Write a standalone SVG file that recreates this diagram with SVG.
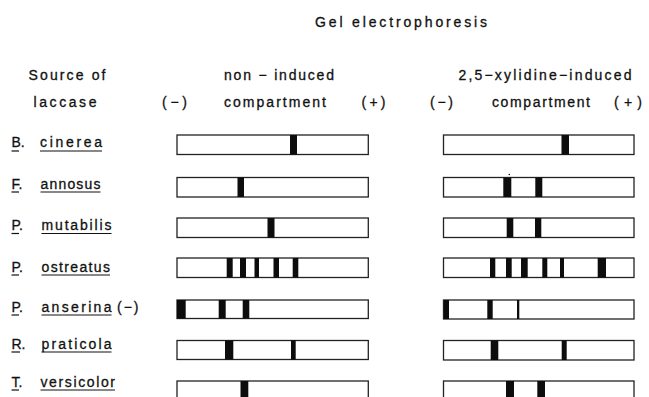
<svg xmlns="http://www.w3.org/2000/svg" width="649" height="397" viewBox="0 0 649 397">
  <style>
    text { font-family: "Liberation Sans", "DejaVu Sans", sans-serif; fill: #111111; stroke: #111111; stroke-width: 0.3; }
    .hd { font-size: 14px; }
    .lb { font-size: 14px; }
    .ul { stroke: #111111; stroke-width: 1.2; }
    .lane { fill: #ffffff; stroke: #222222; stroke-width: 1.3; }
    .band { fill: #0d0d0d; }
  </style>
  <rect width="649" height="397" fill="#ffffff"/>

  <!-- column headings -->
  <g id="headings">
    <text class="hd" x="315" y="26.5" textLength="172" lengthAdjust="spacing">Gel electrophoresis</text>
    <text class="hd" x="28.5" y="79.5" textLength="77" lengthAdjust="spacing">Source of</text>
    <text class="hd" x="33.5" y="107" textLength="63" lengthAdjust="spacing">laccase</text>
    <text class="hd" x="162" y="107" textLength="25" lengthAdjust="spacing">(−)</text>
    <text class="hd" x="224" y="79.5" textLength="110" lengthAdjust="spacing">non − induced</text>
    <text class="hd" x="224" y="107" textLength="102" lengthAdjust="spacing">compartment</text>
    <text class="hd" x="361.5" y="107" textLength="24" lengthAdjust="spacing">(+)</text>
    <text class="hd" x="430" y="107" textLength="23" lengthAdjust="spacing">(−)</text>
    <text class="hd" x="458.5" y="79.5" textLength="173" lengthAdjust="spacing">2,5−xylidine−induced</text>
    <text class="hd" x="492" y="107" textLength="98" lengthAdjust="spacing">compartment</text>
    <text class="hd" x="614" y="107" textLength="28" lengthAdjust="spacing">(+)</text>
  </g>

  <!-- row 1 -->
  <g id="b-cinerea">
    <text class="lb" x="11.5" y="147.3">B.</text>
    <line class="ul" x1="11.5" y1="151" x2="19" y2="151"/>
    <text class="lb" x="40" y="147.3" textLength="62" lengthAdjust="spacing">cinerea</text>
    <line class="ul" x1="40" y1="151" x2="102" y2="151"/>
    <rect class="lane" x="177" y="135" width="191.3" height="19.5"/>
    <rect class="band" x="290" y="135" width="7" height="19.5"/>
    <rect class="lane" x="443.5" y="135" width="190.5" height="19.5"/>
    <rect class="band" x="561.5" y="135" width="7.5" height="19.5"/>
  </g>

  <!-- row 2 -->
  <g id="f-annosus">
    <text class="lb" x="11.5" y="188.5">F.</text>
    <line class="ul" x1="11.5" y1="192" x2="19" y2="192"/>
    <text class="lb" x="40.5" y="188.5" textLength="60" lengthAdjust="spacing">annosus</text>
    <line class="ul" x1="40.5" y1="192" x2="100.5" y2="192"/>
    <rect class="lane" x="177" y="177.5" width="191.3" height="19.5"/>
    <rect class="band" x="237.5" y="177.5" width="6.5" height="19.5"/>
    <rect class="lane" x="443.5" y="177.5" width="190.5" height="19.5"/>
    <rect class="band" x="503.3" y="177.5" width="8" height="19.5"/>
    <rect class="band" x="535.3" y="177.5" width="7" height="19.5"/>
    <circle class="band" cx="509.3" cy="174.5" r="0.8"/>
  </g>

  <!-- row 3 -->
  <g id="p-mutabilis">
    <text class="lb" x="11.5" y="230">P.</text>
    <line class="ul" x1="11.5" y1="233.5" x2="19" y2="233.5"/>
    <text class="lb" x="41.5" y="230" textLength="70" lengthAdjust="spacing">mutabilis</text>
    <line class="ul" x1="41.5" y1="233.5" x2="111.5" y2="233.5"/>
    <rect class="lane" x="177" y="218" width="191.3" height="19.5"/>
    <rect class="band" x="267.5" y="218" width="7" height="19.5"/>
    <rect class="lane" x="443.5" y="218" width="190.5" height="19.5"/>
    <rect class="band" x="506.7" y="218" width="6.6" height="19.5"/>
    <rect class="band" x="535" y="218" width="6.3" height="19.5"/>
  </g>

  <!-- row 4 -->
  <g id="p-ostreatus">
    <text class="lb" x="11.5" y="271.5">P.</text>
    <line class="ul" x1="11.5" y1="275" x2="19" y2="275"/>
    <text class="lb" x="41.5" y="271.5" textLength="68.5" lengthAdjust="spacing">ostreatus</text>
    <line class="ul" x1="41.5" y1="275" x2="110" y2="275"/>
    <rect class="lane" x="177" y="258" width="191.3" height="19.5"/>
    <rect class="band" x="226.7" y="258" width="6" height="19.5"/>
    <rect class="band" x="240" y="258" width="6" height="19.5"/>
    <rect class="band" x="254.5" y="258" width="4.5" height="19.5"/>
    <rect class="band" x="273.5" y="258" width="5.5" height="19.5"/>
    <rect class="band" x="292.7" y="258" width="5.6" height="19.5"/>
    <rect class="lane" x="443.5" y="258" width="190.5" height="19.5"/>
    <rect class="band" x="490" y="258" width="5.3" height="19.5"/>
    <rect class="band" x="506" y="258" width="5.7" height="19.5"/>
    <rect class="band" x="521" y="258" width="6.7" height="19.5"/>
    <rect class="band" x="542.3" y="258" width="5" height="19.5"/>
    <rect class="band" x="560" y="258" width="4" height="19.5"/>
    <rect class="band" x="597.7" y="258" width="8.3" height="19.5"/>
  </g>

  <!-- row 5 -->
  <g id="p-anserina">
    <text class="lb" x="11.5" y="311.5">P.</text>
    <line class="ul" x1="11.5" y1="315" x2="19" y2="315"/>
    <text class="lb" x="41.5" y="311.5" textLength="70" lengthAdjust="spacing">anserina</text>
    <line class="ul" x1="41.5" y1="315" x2="111.5" y2="315"/>
    <text class="lb" x="117" y="311.5" textLength="21.5" lengthAdjust="spacing">(−)</text>
    <rect class="lane" x="177" y="300" width="191.3" height="18.5"/>
    <rect class="band" x="177" y="300" width="8.7" height="18.5"/>
    <rect class="band" x="218.7" y="300" width="7" height="18.5"/>
    <rect class="band" x="242.7" y="300" width="6.6" height="18.5"/>
    <rect class="lane" x="443.5" y="300" width="190.5" height="19"/>
    <rect class="band" x="444" y="300" width="5" height="19"/>
    <rect class="band" x="487.3" y="300" width="5.4" height="19"/>
    <rect class="band" x="517" y="300" width="2.3" height="19"/>
  </g>

  <!-- row 6 -->
  <g id="r-praticola">
    <text class="lb" x="11.5" y="348.5">R.</text>
    <line class="ul" x1="11.5" y1="352" x2="20" y2="352"/>
    <text class="lb" x="41.5" y="348.5" textLength="70" lengthAdjust="spacing">praticola</text>
    <line class="ul" x1="41.5" y1="352" x2="111.5" y2="352"/>
    <rect class="lane" x="177" y="340.5" width="191.3" height="19"/>
    <rect class="band" x="225" y="340.5" width="8.3" height="19"/>
    <rect class="band" x="291" y="340.5" width="4.7" height="19"/>
    <rect class="lane" x="443.5" y="340.5" width="190.5" height="19.5"/>
    <rect class="band" x="490.7" y="340.5" width="7.6" height="19.5"/>
    <rect class="band" x="561.7" y="340.5" width="5" height="19.5"/>
  </g>

  <!-- row 7 -->
  <g id="t-versicolor">
    <text class="lb" x="11.5" y="386.5">T.</text>
    <line class="ul" x1="11.5" y1="390" x2="19" y2="390"/>
    <text class="lb" x="40.5" y="386.5" textLength="74.5" lengthAdjust="spacing">versicolor</text>
    <line class="ul" x1="40.5" y1="390" x2="115" y2="390"/>
    <rect class="lane" x="177" y="381" width="191.3" height="19.5"/>
    <rect class="band" x="240.5" y="381" width="7.8" height="19.5"/>
    <rect class="lane" x="443.5" y="381" width="190.5" height="19.5"/>
    <rect class="band" x="506" y="381" width="8" height="19.5"/>
    <rect class="band" x="537.3" y="381" width="7.7" height="19.5"/>
  </g>
</svg>
